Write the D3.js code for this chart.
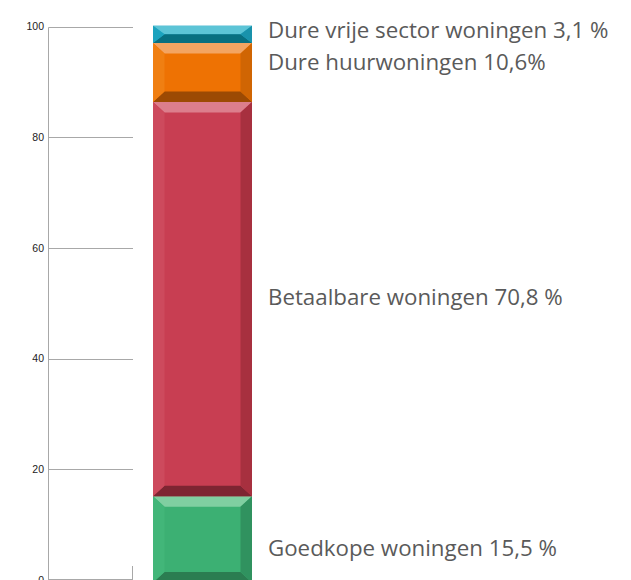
<!DOCTYPE html>
<html>
<head>
<meta charset="utf-8">
<script src="https://cdn.jsdelivr.net/npm/d3@7"></script>
<style>
  html, body { margin: 0; padding: 0; background: #fff; }
  svg { display: block; }
</style>
</head>
<body>
<svg id="chart" width="631" height="580"></svg>
<script>
// ---- data ----
const categories = ["Goedkope woningen", "Betaalbare woningen", "Dure huurwoningen", "Dure vrije sector woningen"];
const values = [15.5, 70.8, 10.6, 3.1];
const labels = ["Goedkope woningen 15,5 %", "Betaalbare woningen 70,8 %", "Dure huurwoningen 10,6%", "Dure vrije sector woningen 3,1 %"];
const tickValues = [0, 20, 40, 60, 80, 100];

// ---- styles ----
const palette = [
  { main: "#3cb073", top: "#80cfa1", bottom: "#2b7d51", left: "#42b679", right: "#30925f" },
  { main: "#c83e52", top: "#dc7e8c", bottom: "#7e2532", left: "#cd4a5d", right: "#a7303f" },
  { main: "#ee7203", top: "#f3a462", bottom: "#9c4a03", left: "#f07f12", right: "#d06503" },
  { main: "#28a9c4", top: "#5cc4d6", bottom: "#086f80", left: "#1ca3be", right: "#1992ab" }
];
const labelY = [556, 305, 70, 38];

const svg = d3.select("#chart");

// axis scale
const y = d3.scaleLinear().domain([0, 100]).range([580, 26.7]);
// bar scale (bar extends slightly below the frame)
const yBar = d3.scaleLinear().domain([0, 100]).range([582.5, 25.7]);
const x = d3.scaleBand().domain(["all"]).range([153, 252]).padding(0);

const axisX = 48.5, gridEnd = 133;
const gy = d => Math.min(579.5, Math.round(y(d)) + 0.5);

// gridlines
svg.append("g").selectAll("line").data(tickValues).join("line")
  .attr("x1", axisX).attr("x2", gridEnd)
  .attr("y1", gy).attr("y2", gy)
  .attr("stroke", "#a8a8a8").attr("stroke-width", 1);

// axis line
svg.append("line").attr("x1", axisX).attr("x2", axisX)
  .attr("y1", gy(100)).attr("y2", 580)
  .attr("stroke", "#a8a8a8").attr("stroke-width", 1);
// end tick at right of base
svg.append("line").attr("x1", gridEnd - 0.5).attr("x2", gridEnd - 0.5)
  .attr("y1", 566).attr("y2", 580)
  .attr("stroke", "#a8a8a8").attr("stroke-width", 1);

// tick labels
svg.append("g").selectAll("text").data(tickValues).join("text")
  .attr("x", 44).attr("y", d => y(d)).attr("dy", "0.35em")
  .attr("text-anchor", "end")
  .attr("font-family", "Liberation Sans, Arial, sans-serif")
  .attr("font-size", 10.5).attr("fill", "#222")
  .text(d => d);

// stacked data
let acc = 0;
const stacked = values.map((v, i) => {
  const s = { i, y0: acc, y1: acc + v, cat: categories[i] };
  acc += v;
  return s;
});

const bw = x.bandwidth();
const x0 = x("all"), x1 = x0 + bw;

const segs = svg.append("g").selectAll("g").data(stacked).join("g");
segs.each(function (d) {
  const g = d3.select(this);
  const top = yBar(d.y1), bot = yBar(d.y0);
  const h = bot - top;
  const bv = Math.min(10.5, h / 2);
  const bh = 11.5;
  const c = palette[d.i];
  const poly = (pts, fill) => g.append("polygon")
    .attr("points", pts.map(p => p.join(",")).join(" ")).attr("fill", fill);
  poly([[x0, top], [x1, top], [x1, bot], [x0, bot]], c.main);
  poly([[x0, top], [x1, top], [x1 - bh, top + bv], [x0 + bh, top + bv]], c.top);
  poly([[x0, bot], [x1, bot], [x1 - bh, bot - bv], [x0 + bh, bot - bv]], c.bottom);
  poly([[x0, top], [x0 + bh, top + bv], [x0 + bh, bot - bv], [x0, bot]], c.left);
  poly([[x1, top], [x1 - bh, top + bv], [x1 - bh, bot - bv], [x1, bot]], c.right);
});

// labels
svg.append("g").selectAll("text").data(labels).join("text")
  .attr("x", 268).attr("y", (d, i) => labelY[i])
  .attr("font-family", "Open Sans, Noto Sans, sans-serif")
  .attr("font-size", 22.3).attr("fill", "#5a5a5a")
  .text(d => d);
</script>
</body>
</html>
